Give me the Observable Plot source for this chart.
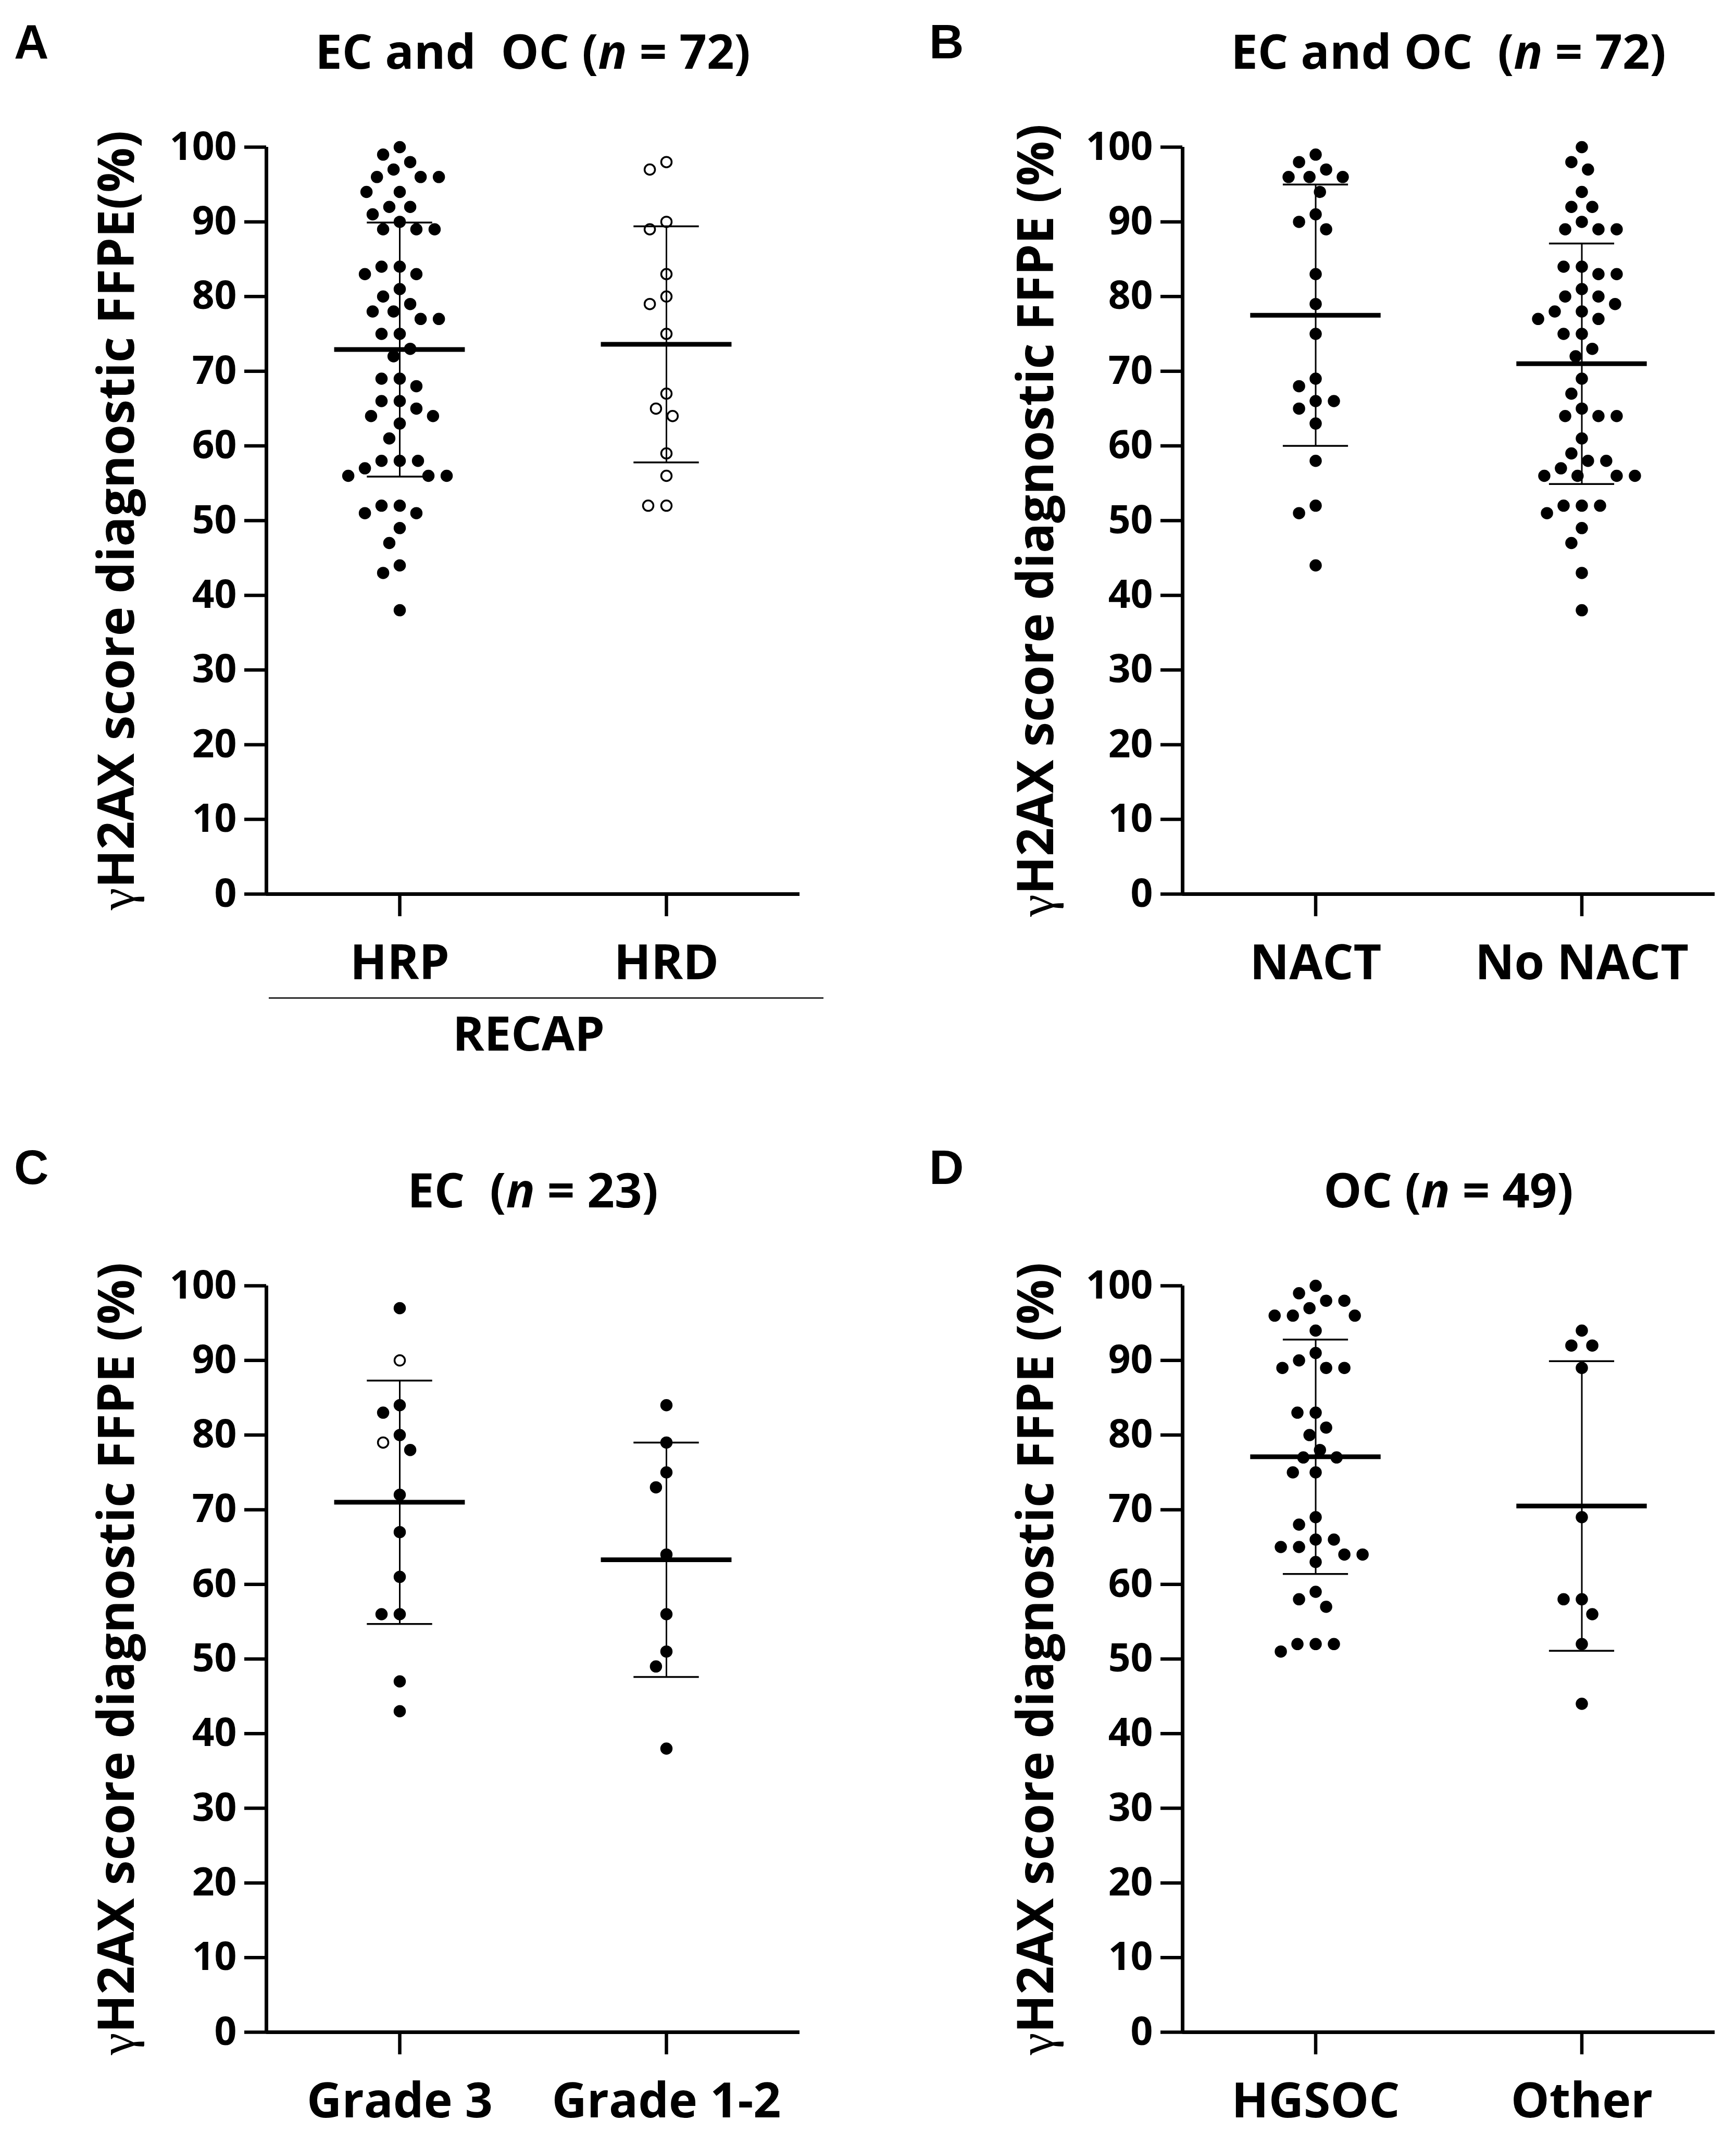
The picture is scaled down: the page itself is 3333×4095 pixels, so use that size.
<!DOCTYPE html>
<html>
<head>
<meta charset="utf-8">
<script src="https://cdn.jsdelivr.net/npm/d3@7"></script>
<script src="https://cdn.jsdelivr.net/npm/@observablehq/plot@0.6"></script>
<style>
  html, body { margin: 0; padding: 0; background: #fff; }
  #fig { position: relative; width: 3333px; height: 4095px; background: #fff; overflow: hidden; }
  #fig svg { position: absolute; }
</style>
</head>
<body>
<div id="fig"></div>
<script>
// ---------- data ----------
const yTicks = [0, 10, 20, 30, 40, 50, 60, 70, 80, 90, 100];

// Panel A: RECAP status
const groupsA = ["HRP", "HRD"];
const valuesA_HRP = [100, 99, 98, 97, 96, 96, 96, 94, 94, 92, 92, 91, 90, 89, 89, 89, 84, 84, 83, 83, 81, 80, 79, 78, 78, 77, 77, 75, 75, 73, 72, 69, 69, 68, 66, 66, 65, 64, 64, 63, 61, 58, 58, 58, 57, 56, 56, 56, 52, 52, 51, 51, 49, 47, 44, 43, 38];
const valuesA_HRD_open = [98, 97, 90, 89, 83, 80, 79, 75, 67, 65, 64, 59, 56, 52, 52];
const meanA = [72.9, 73.6];
const sdA = [17.0, 15.8];

// Panel B: NACT
const groupsB = ["NACT", "No NACT"];
const valuesB_NACT = [99, 98, 97, 96, 96, 96, 94, 91, 90, 89, 83, 79, 75, 69, 68, 66, 66, 65, 63, 58, 52, 51, 44];
const valuesB_NoNACT = [100, 98, 97, 94, 92, 92, 90, 89, 89, 89, 84, 84, 83, 83, 81, 80, 80, 79, 78, 78, 77, 77, 75, 75, 73, 72, 69, 67, 65, 64, 64, 64, 61, 59, 58, 58, 57, 56, 56, 56, 56, 52, 52, 52, 51, 49, 47, 43, 38];
const meanB = [77.5, 71.0];
const sdB = [17.5, 16.1];

// Panel C: EC grade
const groupsC = ["Grade 3", "Grade 1-2"];
const valuesC_G3 = [97, 84, 83, 80, 78, 72, 67, 61, 56, 56, 47, 43];
const valuesC_G3_open = [90, 79];
const valuesC_G12 = [84, 79, 75, 73, 64, 56, 51, 49, 38];
const meanC = [71.0, 63.3];
const sdC = [16.3, 15.7];

// Panel D: OC histology
const groupsD = ["HGSOC", "Other"];
const valuesD_HGSOC = [100, 99, 98, 98, 97, 96, 96, 96, 94, 91, 90, 89, 89, 89, 83, 83, 81, 80, 78, 77, 77, 75, 75, 69, 68, 66, 66, 65, 65, 64, 64, 63, 59, 58, 57, 52, 52, 52, 51];
const valuesD_Other = [94, 92, 92, 89, 69, 58, 58, 56, 52, 44];
const meanD = [77.1, 70.5];
const sdD = [15.7, 19.4];

// ---------- drawing ----------
const FONT = "'Open Sans', 'DejaVu Sans', sans-serif";
const MEAN_HALF = 0.49;   // half length of mean line, in facet x units
const CAP_HALF = 0.245;   // half length of SD caps

function panel(c) {
  const rows = [];
  c.groups.forEach((g, i) => {
    (c.filled[i] || []).forEach(v => rows.push({group: g, value: v, open: false}));
    (c.open[i] || []).forEach(v => rows.push({group: g, value: v, open: true}));
  });
  rows.sort((a, b) => d3.descending(a.value, b.value));
  const summary = c.groups.map((g, i) => ({
    group: g, mean: c.means[i], lo: c.means[i] - c.sds[i], hi: c.means[i] + c.sds[i]
  }));

  const svg = Plot.plot({
    width: c.width, height: c.height,
    marginLeft: c.ml, marginRight: c.mr, marginTop: c.mt, marginBottom: c.mb,
    style: {fontFamily: FONT, background: "white", color: "black", overflow: "visible"},
    fx: {domain: c.groups, padding: 0, label: null},
    x: {domain: [-1, 1], axis: null},
    y: {domain: [0, 100], label: null},
    marks: [
      Plot.axisY(yTicks, {fontSize: 75, fontWeight: 700, tickSize: 42, tickPadding: 15, strokeWidth: 6.5, label: null}),
      Plot.axisFx({anchor: "bottom", fontSize: 93, fontWeight: 700, tickSize: 43, tickPadding: 54, strokeWidth: 6.5, label: null}),
      Plot.ruleY([0], {strokeWidth: 7}),
      Plot.ruleX([c.groups[0]], {fx: d => d, x: -1, y1: 0, y2: 100, strokeWidth: 7}),
      Plot.dot(rows, Plot.dodgeX({anchor: "middle", padding: 15}, {
        fx: "group", y: "value", r: 10,
        fill: d => d.open ? "white" : "black",
        stroke: "black", strokeWidth: 3.5
      })),
      Plot.ruleX(summary, {fx: "group", x: 0, y1: "lo", y2: "hi", strokeWidth: 3}),
      Plot.ruleY(summary, {fx: "group", y: "hi", x1: -CAP_HALF, x2: CAP_HALF, strokeWidth: 3.5}),
      Plot.ruleY(summary, {fx: "group", y: "lo", x1: -CAP_HALF, x2: CAP_HALF, strokeWidth: 3.5}),
      Plot.ruleY(summary, {fx: "group", y: "mean", x1: -MEAN_HALF, x2: MEAN_HALF, strokeWidth: 9})
    ]
  });

  const s = d3.select(svg);
  s.style("left", c.left + "px").style("top", c.top + "px");
  const cx = c.ml + (c.width - c.ml - c.mr) / 2;
  const cy = c.mt + (c.height - c.mt - c.mb) / 2;

  // panel letter
  s.append("text")
    .attr("x", c.letterX).attr("y", c.letterY)
    .attr("text-anchor", "start")
    .attr("font-family", "'Liberation Sans', Arial, sans-serif")
    .attr("font-weight", 700).attr("font-size", 92).attr("fill", "black")
    .text(c.letter);

  // title
  const t = s.append("text")
    .attr("x", cx).attr("y", c.mt - 150)
    .attr("text-anchor", "middle")
    .attr("font-family", FONT).attr("font-weight", 700).attr("font-size", 92).attr("fill", "black")
    .style("white-space", "pre");
  t.append("tspan").text(c.title[0]);
  t.append("tspan").attr("font-style", "italic").text("n");
  t.append("tspan").text(c.title[1]);

  // y label
  const yl = s.append("text")
    .attr("transform", `translate(${c.ylx},${cy}) rotate(-90)`)
    .attr("text-anchor", "middle")
    .attr("font-family", FONT).attr("font-weight", 700).attr("font-size", 96).attr("fill", "black")
    .style("white-space", "pre");
  yl.append("tspan").attr("font-family", "'Liberation Serif', 'DejaVu Serif', serif").attr("font-weight", 400).text("γ");
  yl.append("tspan").text(c.ylabel);

  if (c.recap) {
    s.append("line")
      .attr("x1", 516).attr("x2", 1581).attr("y1", 1916).attr("y2", 1916)
      .attr("stroke", "black").attr("stroke-width", 2.5);
    s.append("text")
      .attr("x", 1015).attr("y", 2017).attr("text-anchor", "middle")
      .attr("font-family", FONT).attr("font-weight", 700).attr("font-size", 92).attr("fill", "black")
      .text(c.recap);
  }
  document.getElementById("fig").appendChild(svg);
}

const leftCol = {left: 0, width: 1667, ml: 511, mr: 132, letterX: 27, ylx: 257};
const rightCol = {left: 1667, width: 1666, ml: 603, mr: 41, letterX: 117, ylx: 355};
const topRow = {top: 0, height: 2100, mt: 282, mb: 384, letterY: 112};
const botRow = {top: 2100, height: 1995, mt: 368, mb: 194, letterY: 173};

panel({...leftCol, ...topRow, groups: groupsA, filled: [valuesA_HRP, []], open: [[], valuesA_HRD_open],
  means: meanA, sds: sdA, letter: "A", title: ["EC and  OC (", " = 72)"],
  ylabel: "H2AX score diagnostic FFPE(%)", recap: "RECAP"});
panel({...rightCol, ...topRow, groups: groupsB, filled: [valuesB_NACT, valuesB_NoNACT], open: [[], []],
  means: meanB, sds: sdB, letter: "B", title: ["EC and OC  (", " = 72)"],
  ylabel: "H2AX score diagnostic FFPE (%)"});
panel({...leftCol, ...botRow, groups: groupsC, filled: [valuesC_G3, valuesC_G12], open: [valuesC_G3_open, []],
  means: meanC, sds: sdC, letter: "C", title: ["EC  (", " = 23)"],
  ylabel: "H2AX score diagnostic FFPE (%)"});
panel({...rightCol, ...botRow, groups: groupsD, filled: [valuesD_HGSOC, valuesD_Other], open: [[], []],
  means: meanD, sds: sdD, letter: "D", title: ["OC (", " = 49)"],
  ylabel: "H2AX score diagnostic FFPE (%)"});
</script>
</body>
</html>
